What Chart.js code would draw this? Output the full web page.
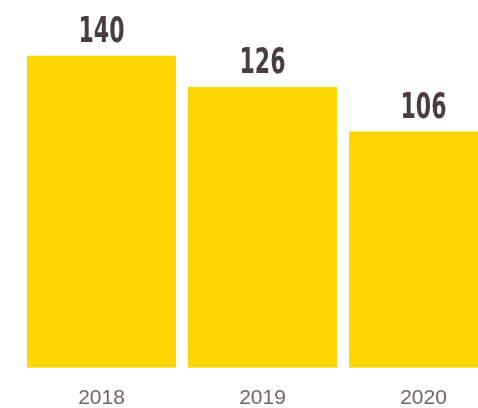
<!DOCTYPE html>
<html>
<head>
<meta charset="utf-8">
<script src="https://cdn.jsdelivr.net/npm/chart.js@4"></script>
<style>
  html, body { margin: 0; padding: 0; background: #fff; overflow: hidden; }
  #wrap { position: relative; width: 504px; height: 421px; }
</style>
</head>
<body>
<div id="wrap"><canvas id="chart" width="504" height="421"></canvas></div>
<script>
// dados
const anos = ["2018", "2019", "2020"];
const valores = [140, 126, 106];

const corBarra = "#FFD500";
const corValor = "#4a3d3d";
const corAno = "#6f6767";

// rotulos acima das barras (fonte condensada, comprimida na horizontal)
const rotulos = {
  id: "rotulos",
  afterDatasetsDraw(chart) {
    const ctx = chart.ctx;
    const meta = chart.getDatasetMeta(0);
    ctx.save();
    ctx.fillStyle = corValor;
    ctx.textAlign = "center";
    ctx.textBaseline = "alphabetic";
    ctx.font = "bold 36px 'DejaVu Sans Condensed', sans-serif";
    meta.data.forEach((bar, i) => {
      ctx.save();
      ctx.translate(bar.x, bar.y - 14);
      ctx.scale(0.68, 1);
      ctx.fillText(String(valores[i]), 0, 0);
      ctx.restore();
    });
    ctx.restore();
  },
};

const ctx = document.getElementById("chart").getContext("2d");
new Chart(ctx, {
  type: "bar",
  data: {
    labels: anos,
    datasets: [{ data: valores, backgroundColor: corBarra, categoryPercentage: 1, barPercentage: 0.925 }],
  },
  options: {
    responsive: false,
    animation: false,
    layout: { padding: { left: 21, right: 0, top: 0, bottom: 0 } },
    plugins: { legend: { display: false }, tooltip: { enabled: false } },
    scales: {
      y: { display: false, min: 0, max: 165 },
      x: {
        grid: { display: false },
        border: { display: false },
        ticks: { color: corAno, font: { family: "'Liberation Sans', Arial, sans-serif", size: 21 }, padding: 10 },
      },
    },
  },
  plugins: [rotulos],
});
</script>
</body>
</html>
